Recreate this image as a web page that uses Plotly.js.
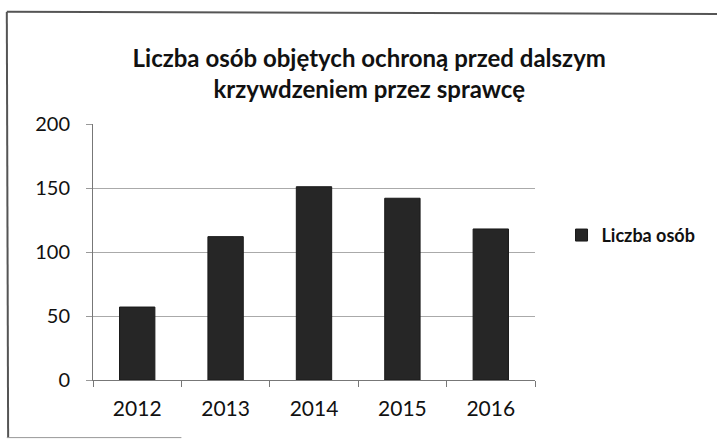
<!DOCTYPE html>
<html>
<head>
<meta charset="utf-8">
<script src="https://cdn.plot.ly/plotly-3.0.1.min.js"></script>
<style>html,body{margin:0;padding:0;background:#fff;}#chart{width:717px;height:447px;}</style>
</head>
<body>
<div id="chart"></div>
<script>
const years = ['2012', '2013', '2014', '2015', '2016'];
const liczbaOsob = [57, 112, 151, 142, 118];
const seriesName = 'Liczba osób';
const titleText = 'Liczba osób objętych ochroną przed dalszym<br>krzywdzeniem przez sprawcę';

const fontFam = 'Lato, "Open Sans", sans-serif';

const data = [{
  type: 'bar',
  x: years,
  y: liczbaOsob,
  name: seriesName,
  marker: {color: '#262626', line: {color: '#1a1a1a', width: 1}},
  width: 0.4
}];

const layout = {
  width: 717, height: 447,
  paper_bgcolor: '#fff', plot_bgcolor: '#fff',
  margin: {l: 93, r: 182, t: 124, b: 67},
  title: {
    text: titleText,
    font: {family: fontFam, size: 24, color: '#111', weight: 'bold'},
    x: 0.515, xanchor: 'center', y: 0.851, yanchor: 'middle'
  },
  showlegend: true,
  legend: {
    x: 1.06, xanchor: 'left', y: 0.565, yanchor: 'middle',
    font: {family: fontFam, size: 18, color: '#111', weight: 'bold'},
    itemwidth: 30, bgcolor: 'rgba(0,0,0,0)'
  },
  xaxis: {
    type: 'category',
    tickfont: {family: fontFam, size: 21, color: '#111'},
    showline: true, linecolor: '#777', linewidth: 1,
    ticks: 'outside', ticklen: 6, tickcolor: '#777',
    tickson: 'boundaries', showgrid: false,
    ticklabelstandoff: 10,
    fixedrange: true
  },
  yaxis: {
    range: [0, 200], dtick: 50,
    tickfont: {family: fontFam, size: 20, color: '#111'},
    showline: true, linecolor: '#777', linewidth: 1,
    ticks: 'outside', ticklen: 6, tickcolor: '#999',
    showgrid: true, gridcolor: '#aaa', gridwidth: 1,
    zeroline: false, ticklabelstandoff: 12,
    fixedrange: true
  },
  shapes: [
    {type: 'line', xref: 'paper', yref: 'paper', x0: -0.195, x1: 1.43, y0: 1.438, y1: 1.43, line: {color: '#555', width: 2}},
    {type: 'line', xref: 'paper', yref: 'paper', x0: -0.195, x1: -0.192, y0: 1.438, y1: -0.225, line: {color: '#555', width: 2}},
    {type: 'line', xref: 'paper', yref: 'paper', x0: -0.195, x1: 0.2, y0: -0.225, y1: -0.225, line: {color: '#999', width: 1}}
  ]
};

Plotly.newPlot('chart', data, layout, {displayModeBar: false, staticPlot: true});
</script>
</body>
</html>
